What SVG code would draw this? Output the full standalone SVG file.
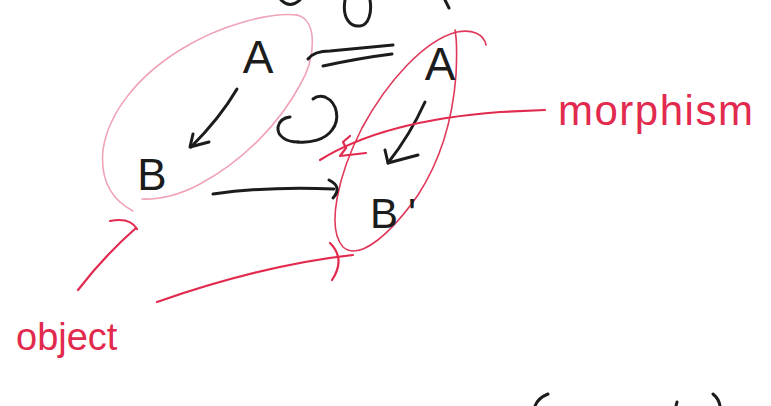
<svg xmlns="http://www.w3.org/2000/svg" width="771" height="406" viewBox="0 0 771 406">
<style>
.ink{fill:none;stroke:#1c1c1c;stroke-width:3;stroke-linecap:round;stroke-linejoin:round}
.red{fill:none;stroke:#e22a4e;stroke-width:2.2;stroke-linecap:round;stroke-linejoin:round}
.pink{fill:none;stroke:#efa3b6;stroke-width:1.6;stroke-linecap:round}
.rthin{fill:none;stroke:#e0385a;stroke-width:1.6;stroke-linecap:round}
.lbl{font-family:"Liberation Sans",Arial,sans-serif;fill:#1c1c1c}
.rlbl{font-family:"Liberation Sans",Arial,sans-serif;fill:#e22a4e}
</style>
<rect width="771" height="406" fill="#ffffff"/>

<g id="fragments">
<path class="ink" d="M281,0 Q290,9 300,0"/>
<path class="ink" d="M345,0 C342,18 350,27 360,26 C369,25 372,12 370,0"/>
<path class="ink" d="M445,0 L449,8"/>
<path class="ink" d="M548,394 Q538,398 535,406"/>
<path class="ink" d="M677,402 L676,406"/>
<path class="ink" d="M713,394 Q719,399 720,406"/>
</g>

<g id="object-left">
<path class="pink" d="M297,15 C318,20 316,58 300,85 C280,122 245,160 200,184 C180,195 158,200 142,199"/>
<path class="pink" d="M297,15 C270,12 220,25 180,50 C135,78 108,115 103,150 C100,180 112,200 133,211"/>
<text class="lbl" x="258" y="73" font-size="46" text-anchor="middle">A</text>
<text class="lbl" x="152" y="190" font-size="44" text-anchor="middle">B</text>
</g>

<g id="object-right">
<path class="rthin" d="M486,45 C484,34 472,29 457,32 C425,40 388,80 362,128 C338,175 326,228 343,247 C360,262 392,232 418,195 C442,158 453,115 456,75 C457,55 457,40 455,30"/>
<text class="lbl" x="440" y="80" font-size="46" text-anchor="middle">A</text>
<text class="lbl" x="370" y="228" font-size="42" letter-spacing="10">B'</text>
</g>

<g id="label-morphism">
<text class="rlbl" x="558" y="125" font-size="42" letter-spacing="1.5">morphism</text>
</g>

<g id="label-object">
<text class="rlbl" x="16" y="350" font-size="38">object</text>
</g>

<g id="connectors">
<path class="ink" d="M237,89 Q220,118 191,147"/>
<path class="ink" d="M193,134 L190,147 L209,142"/>
<path class="ink" d="M425,102 Q410,135 388,163"/>
<path class="ink" d="M385,150 L388,163 L418,155"/>
<path class="ink" d="M308,59 Q314,51 330,51 L393,45"/>
<path class="ink" d="M323,66 Q360,58 392,54"/>
<path class="ink" d="M213,194 Q270,186 334,189"/>
<path class="ink" d="M329,180 Q343,187 333,198"/>
<path class="ink" d="M313,99 Q318,95 325,97 C338,103 340,120 332,130 C325,140 310,143 298,142"/>
<path class="ink" d="M290,117 Q280,118 278,127 C277,136 286,142 298,142"/>
<path class="red" d="M320,160 C360,135 420,118 500,112 L545,110"/>
<path class="red" d="M350,136 L343,142 L346,148 L340,156 L366,153"/>
<path class="red" d="M78,290 Q105,255 136,228"/>
<path class="red" d="M110,221 Q130,217 137,229"/>
<path class="red" d="M157,302 C220,280 290,262 353,255"/>
<path class="red" d="M330,243 Q346,259 332,280"/>
</g>
</svg>
